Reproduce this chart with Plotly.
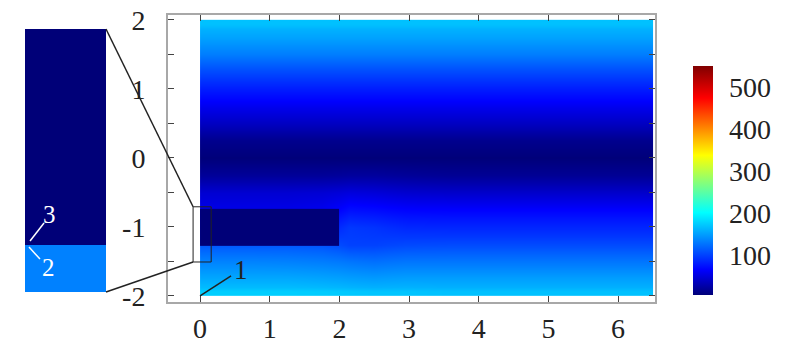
import plotly.graph_objects as go

# ---------------- data ----------------
# grid cell edges of the main field (data units)
x_edges = [0, 0.5, 1.0, 1.5, 2.0, 2.3, 2.7, 3.2, 4.0, 5.0, 6.5]
y_edges = [-2.0, -1.875, -1.625, -1.375, -1.14, -0.87, -0.62, -0.375, -0.125,
           0.125, 0.375, 0.625, 0.875, 1.125, 1.375, 1.625, 1.875, 2.0]

# upper half profile (y = 0 ... 1.94), same for every x
upper_profile = [6, 15, 38, 58, 80, 105, 132, 152, 168]

# lower half profiles (y = -1.94 ... -0.25) for each x cell
lower_x025 = [175, 155, 135, 112, 80, 55, 45, 20]
lower_x075 = [175, 155, 135, 112, 80, 55, 45, 20]
lower_x125 = [175, 155, 134, 112, 80, 55, 45, 20]
lower_x175 = [174, 153, 132, 110, 80, 58, 46, 20]
lower_x215 = [172, 150, 128, 100, 95, 72, 50, 22]
lower_x250 = [170, 148, 125, 100, 92, 70, 48, 22]
lower_x295 = [170, 150, 128, 104, 86, 66, 44, 20]
lower_x360 = [168, 150, 128, 105, 85, 65, 42, 18]
lower_x450 = [168, 150, 128, 105, 85, 65, 42, 18]
lower_x575 = [168, 150, 128, 105, 85, 65, 42, 18]

# dark strip (region 3)
strip_x = [0, 2]
strip_y = [-1.28, -0.74]
strip_value = 5

# zoomed region
zoom_x = [-0.1, 0.16]
zoom_y = [-1.51, -0.71]
inset_y_edges = [-1.51, -1.367, -0.71]
inset_values = [134, 5]

x_ticks = [0, 1, 2, 3, 4, 5, 6]
y_ticks = [-2, -1, 0, 1, 2]
y_tick_labels = ['-2', '-1', '0', '1', '2']
cbar_ticks = [100, 200, 300, 400, 500]
c_min, c_max = 5, 550

# ---------------- build ----------------
lower_cols = [lower_x025, lower_x075, lower_x125, lower_x175, lower_x215,
              lower_x250, lower_x295, lower_x360, lower_x450, lower_x575]
z = []
for r in range(len(lower_x025)):
    z.append([col[r] for col in lower_cols])
for v in upper_profile:
    z.append([v] * len(lower_cols))

jet = [[0.0, 'rgb(0,0,120)'], [0.11, 'rgb(0,0,255)'], [0.36, 'rgb(0,255,255)'],
       [0.61, 'rgb(255,255,0)'], [0.86, 'rgb(255,0,0)'], [1.0, 'rgb(128,0,0)']]

W, H = 790, 345
main_xdom = [168 / W, 655 / W]
main_ydom = [1 - 302 / H, 1 - 15 / H]
main_xr = [-0.46, 6.53]
main_yr = [-2.09, 2.07]
inset_xdom = [25 / W, 106 / W]
inset_ydom = [1 - 292 / H, 1 - 29 / H]


def px(x):
    return main_xdom[0] + (x - main_xr[0]) / (main_xr[1] - main_xr[0]) * (main_xdom[1] - main_xdom[0])


def py(y):
    return main_ydom[0] + (y - main_yr[0]) / (main_yr[1] - main_yr[0]) * (main_ydom[1] - main_ydom[0])


fig = go.Figure()
fig.add_trace(go.Heatmap(x=x_edges, y=y_edges, z=z, coloraxis='coloraxis',
                         zsmooth='best', hoverinfo='skip'))
fig.add_trace(go.Heatmap(x=strip_x, y=strip_y, z=[[strip_value]], coloraxis='coloraxis',
                         zsmooth=False, hoverinfo='skip'))
fig.add_trace(go.Heatmap(x=zoom_x, y=inset_y_edges, z=[[v] for v in inset_values],
                         coloraxis='coloraxis', zsmooth=False, hoverinfo='skip',
                         xaxis='x2', yaxis='y2'))

font = dict(family='Liberation Serif', size=28, color='#222')
axis_common = dict(showgrid=False, zeroline=False, ticks='inside', ticklen=6,
                   tickcolor='#444', tickwidth=1, linecolor='#a8a8a8', linewidth=2,
                   mirror='ticks', tickfont=font, automargin=False)

fig.update_layout(
    width=W, height=H, margin=dict(l=0, r=0, t=0, b=0, pad=0, autoexpand=False),
    paper_bgcolor='white', plot_bgcolor='white', showlegend=False,
    xaxis=dict(domain=main_xdom, range=main_xr, tickvals=x_ticks,
               ticklabelstandoff=0, **axis_common),
    yaxis=dict(domain=main_ydom, range=main_yr, tickvals=y_ticks, ticktext=y_tick_labels,
               ticklabelstandoff=15, minor=dict(dtick=0.5, ticks='inside', ticklen=6, tickcolor='#444'),
               **axis_common),
    xaxis2=dict(domain=inset_xdom, range=zoom_x, visible=False, anchor='y2', automargin=False),
    yaxis2=dict(domain=inset_ydom, range=zoom_y, visible=False, anchor='x2', automargin=False),
    coloraxis=dict(colorscale=jet, cmin=c_min, cmax=c_max,
                   colorbar=dict(x=693 / W, xanchor='left', xpad=0, ypad=0,
                                 y=1 - 180.5 / H, yanchor='middle', len=229 / H,
                                 thickness=20, outlinewidth=0,
                                 tickvals=cbar_ticks, ticks='outside', ticklen=11,
                                 tickcolor='rgba(0,0,0,0)', tickfont=font)),
)

# zoom box and connectors
fig.add_shape(type='rect', xref='x', yref='y', x0=zoom_x[0], x1=zoom_x[1],
              y0=zoom_y[0], y1=zoom_y[1], line=dict(color='#222', width=1))
fig.add_shape(type='line', xref='paper', yref='paper', x0=inset_xdom[1], y0=inset_ydom[1],
              x1=px(zoom_x[0]), y1=py(zoom_y[1]), line=dict(color='#222', width=1.5))
fig.add_shape(type='line', xref='paper', yref='paper', x0=inset_xdom[1], y0=inset_ydom[0],
              x1=px(zoom_x[0]), y1=py(zoom_y[0]), line=dict(color='#222', width=1.5))

# label 1 (main plot)
fig.add_shape(type='line', xref='x', yref='y', x0=0, y0=-2.0, x1=0.445, y1=-1.71,
              line=dict(color='#222', width=1.5))
fig.add_annotation(x=0.59, y=-1.63, xref='x', yref='y', text='1', showarrow=False,
                   font=dict(family='Liberation Serif', size=27, color='#222'))

# labels 3 and 2 (inset)
def ix(f):
    return zoom_x[0] + f * (zoom_x[1] - zoom_x[0])

fig.add_shape(type='line', xref='x2', yref='y2', x0=ix(0.062), y0=-1.355, x1=ix(0.235), y1=-1.30,
              line=dict(color='white', width=1.5))
fig.add_annotation(x=ix(0.30), y=-1.273, xref='x2', yref='y2', text='3', showarrow=False,
                   font=dict(family='Liberation Serif', size=25, color='white'))
fig.add_shape(type='line', xref='x2', yref='y2', x0=ix(0.049), y0=-1.373, x1=ix(0.185), y1=-1.41,
              line=dict(color='white', width=1.5))
fig.add_annotation(x=ix(0.29), y=-1.434, xref='x2', yref='y2', text='2', showarrow=False,
                   font=dict(family='Liberation Serif', size=25, color='white'))

fig.write_html('out.html', config={'displayModeBar': False},
               post_script="document.body.style.margin='0px';")
